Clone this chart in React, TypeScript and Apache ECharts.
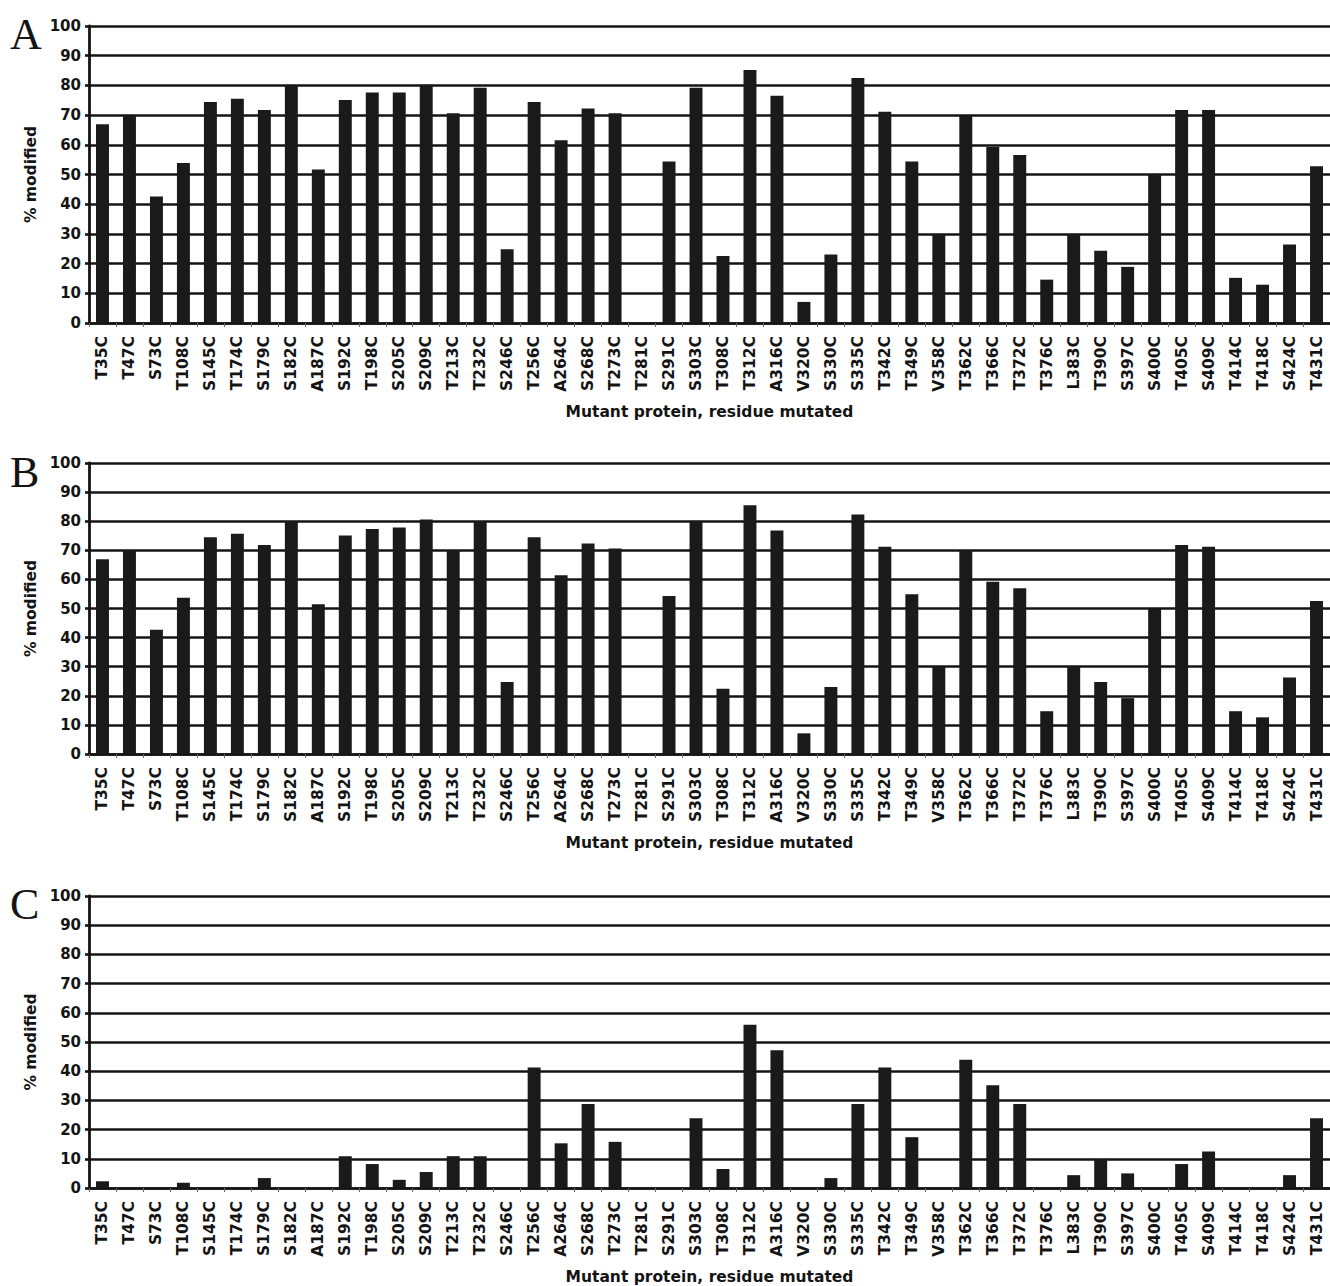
import React, { useEffect, useRef } from "react";
import * as echarts from "echarts";

const categories = [
  "T35C", "T47C", "S73C", "T108C", "S145C", "T174C", "S179C", "S182C", "A187C", "S192C",
  "T198C", "S205C", "S209C", "T213C", "T232C", "S246C", "T256C", "A264C", "S268C", "T273C",
  "T281C", "S291C", "S303C", "T308C", "T312C", "A316C", "V320C", "S330C", "S335C", "T342C",
  "T349C", "V358C", "T362C", "T366C", "T372C", "T376C", "L383C", "T390C", "S397C", "S400C",
  "T405C", "S409C", "T414C", "T418C", "S424C", "T431C",
];

const valuesA = [
  66.9, 69.8, 42.6, 53.9, 74.4, 75.5, 71.7, 80.0, 51.7, 75.1,
  77.6, 77.6, 80.2, 70.6, 79.2, 24.8, 74.4, 61.5, 72.2, 70.6,
  0, 54.4, 79.2, 22.6, 85.2, 76.5, 7.1, 23.1, 82.5, 71.1,
  54.4, 29.7, 69.8, 59.3, 56.6, 14.6, 29.7, 24.3, 18.9, 50.1,
  71.7, 71.7, 15.2, 12.9, 26.4, 52.8,
];

const valuesB = [
  66.9, 70.1, 42.7, 53.7, 74.5, 75.7, 71.8, 80.0, 51.5, 75.1,
  77.3, 77.8, 80.6, 70.1, 80.0, 24.7, 74.5, 61.4, 72.3, 70.6,
  0, 54.3, 80.0, 22.4, 85.5, 76.8, 7.1, 23.0, 82.3, 71.2,
  54.9, 30.1, 70.1, 59.2, 57.0, 14.7, 30.1, 24.7, 19.2, 49.8,
  71.8, 71.2, 14.7, 12.6, 26.3, 52.6,
];

const valuesC = [
  2.3, 0, 0, 1.8, 0, 0, 3.4, 0, 0, 10.9,
  8.2, 2.8, 5.5, 10.9, 10.9, 0, 41.3, 15.3, 28.8, 15.8,
  0, 0, 23.9, 6.5, 55.9, 47.2, 0, 3.4, 28.8, 41.3,
  17.4, 0, 43.9, 35.2, 28.8, 0, 4.4, 9.8, 5.0, 0,
  8.2, 12.5, 0, 0, 4.4, 23.9,
];

const panelLetters = ["A", "B", "C"];
const xTitle = "Mutant protein, residue mutated";
const yTitle = "% modified";
const yMin = 0;
const yMax = 100;
const yStep = 10;

const FONT = "'DejaVu Sans', 'Liberation Sans', Arial, sans-serif";
const INK = "#141414";

export default function App() {
  const ref = useRef<HTMLDivElement>(null);

  useEffect(() => {
    if (!ref.current) return;
    const chart = echarts.init(ref.current, undefined, { renderer: "svg" });

    const grids = [
      { left: 89, top: 26, width: 1244, height: 297 },
      { left: 89, top: 463, width: 1244, height: 291 },
      { left: 89, top: 896, width: 1244, height: 295 },
    ];
    const letterTops = [12, 450, 882];
    const seriesData = [valuesA, valuesB, valuesC];

    const xAxes = grids.map((_, i) => ({
      type: "category",
      gridIndex: i,
      data: categories,
      boundaryGap: true,
      name: xTitle,
      nameLocation: "middle",
      nameGap: 81,
      nameTextStyle: { fontFamily: FONT, fontWeight: "bold", fontSize: 15.5, color: INK },
      axisLine: { show: true, lineStyle: { color: INK, width: 2.6 } },
      axisTick: { show: true, length: 4, lineStyle: { color: "#666", width: 1 } },
      axisLabel: {
        interval: 0,
        rotate: 90,
        margin: 13,
        fontFamily: FONT,
        fontWeight: "bold",
        fontSize: 15.5,
        color: INK,
      },
      splitLine: { show: false },
    }));

    const yAxes = grids.map((_, i) => ({
      type: "value",
      gridIndex: i,
      min: yMin,
      max: yMax,
      interval: yStep,
      name: yTitle,
      nameLocation: "middle",
      nameGap: 43,
      nameRotate: 90,
      nameTextStyle: { fontFamily: FONT, fontWeight: "bold", fontSize: 15.5, color: INK },
      axisLine: { show: true, lineStyle: { color: INK, width: 2.8 } },
      axisTick: { show: true, length: 4, lineStyle: { color: INK, width: 2.6 } },
      axisLabel: {
        margin: 8,
        fontFamily: FONT,
        fontWeight: "bold",
        fontSize: 15,
        color: INK,
      },
      splitLine: { show: true, lineStyle: { color: INK, width: 2.6 } },
    }));

    const series = seriesData.map((d, i) => ({
      type: "bar",
      xAxisIndex: i,
      yAxisIndex: i,
      data: d,
      barWidth: "48%",
      itemStyle: { color: "#1a1a1a" },
      z: 3,
    }));

    const graphic = panelLetters.map((t, i) => ({
      type: "text",
      left: 10,
      top: letterTops[i],
      style: {
        text: t,
        font: "44px 'Liberation Serif', 'Times New Roman', serif",
        fill: INK,
      },
    }));

    chart.setOption({
      animation: false,
      backgroundColor: "#ffffff",
      grid: grids,
      xAxis: xAxes,
      yAxis: yAxes,
      series,
      graphic,
    });

    return () => chart.dispose();
  }, []);

  return (
    <div
      ref={ref}
      style={{ position: "absolute", left: 0, top: 0, width: 1330, height: 1286 }}
    />
  );
}
